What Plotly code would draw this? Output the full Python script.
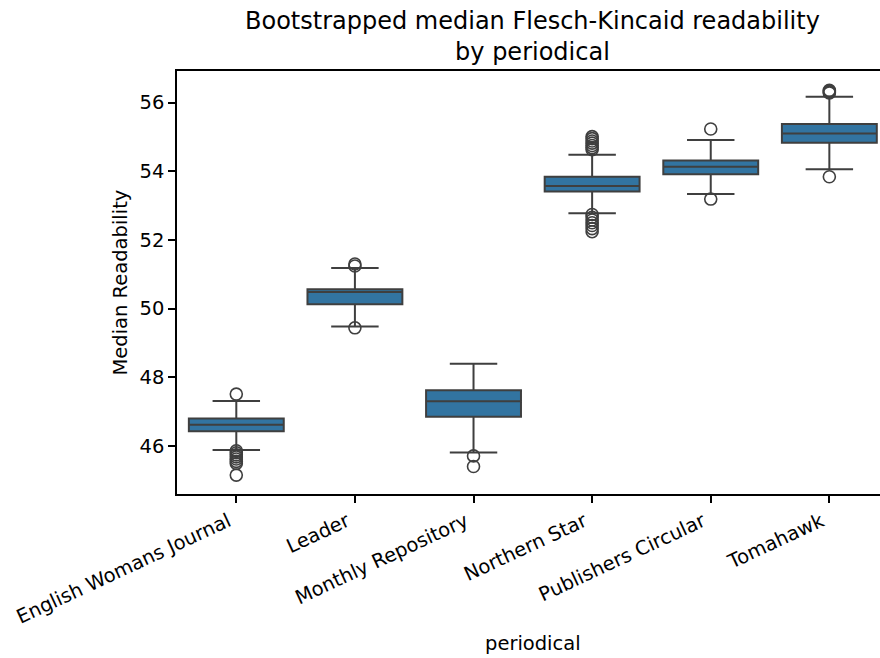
import plotly.graph_objects as go

periodicals = ["English Womans Journal", "Leader", "Monthly Repository",
               "Northern Star", "Publishers Circular", "Tomahawk"]
lower_fence = [45.88, 49.48, 45.81, 52.78, 53.34, 54.06]
q1 = [46.43, 50.13, 46.85, 53.41, 53.91, 54.83]
median = [46.62, 50.48, 47.30, 53.57, 54.13, 55.10]
q3 = [46.80, 50.56, 47.62, 53.84, 54.31, 55.38]
upper_fence = [47.31, 51.18, 48.39, 54.48, 54.91, 56.17]

outliers_ewj = [47.51, 45.86, 45.80, 45.74, 45.68, 45.62, 45.55, 45.49, 45.15]
outliers_leader = [51.30, 51.24, 49.44]
outliers_mr = [45.71, 45.40]
outliers_ns = [55.01, 54.95, 54.88, 54.82, 54.75, 54.69, 54.63,
               52.74, 52.66, 52.58, 52.50, 52.42, 52.33, 52.24]
outliers_pc = [55.23, 53.19]
outliers_tom = [56.36, 56.33, 56.30, 56.28, 53.84]
outliers = [outliers_ewj, outliers_leader, outliers_mr, outliers_ns, outliers_pc, outliers_tom]

yticks = [46, 48, 50, 52, 54, 56]

LINE = "#3f3f3f"
FILL = "#3274a1"
FONT = "DejaVu Sans"
FS = 19.5

fig = go.Figure()
fig.add_trace(go.Box(
    x=periodicals, q1=q1, median=median, q3=q3,
    lowerfence=lower_fence, upperfence=upper_fence,
    fillcolor=FILL, line=dict(color=LINE, width=2),
    width=0.8, whiskerwidth=0.5, boxpoints=False, showlegend=False,
))
ox, oy = [], []
for p, vals in zip(periodicals, outliers):
    for v in vals:
        ox.append(p)
        oy.append(v)
fig.add_trace(go.Scatter(
    x=ox, y=oy, mode="markers", showlegend=False,
    marker=dict(symbol="circle-open", size=12, color=LINE, line=dict(width=1.6, color=LINE)),
))

fig.update_layout(
    width=880, height=658,
    margin=dict(l=177, r=0, t=71, b=164, autoexpand=False),
    plot_bgcolor="white", paper_bgcolor="white",
    font=dict(family=FONT, size=FS, color="black"),
    showlegend=False,
)
fig.update_xaxes(
    type="category", range=[-0.5, 5.427], automargin=False,
    showline=True, linecolor="black", linewidth=1.5, mirror=True,
    ticks="outside", ticklen=7, tickwidth=1.5, tickcolor="black",
    tickangle=-25, showgrid=False, zeroline=False,
    ticklabelshift=-8,
    tickfont=dict(family=FONT, size=FS, color="black"),
)
fig.update_yaxes(
    range=[44.60, 56.92], tickvals=yticks, ticktext=[str(t) for t in yticks],
    automargin=False,
    showline=True, linecolor="black", linewidth=1.5, mirror=False,
    ticks="outside", ticklen=7, tickwidth=1.5, tickcolor="black",
    showgrid=False, zeroline=False,
    tickfont=dict(family=FONT, size=FS, color="black"),
)
fig.add_annotation(text="Median Readability", textangle=-90, xref="paper", yref="paper",
                   x=0, y=0.5, xshift=-57, xanchor="center", yanchor="middle",
                   showarrow=False, font=dict(family=FONT, size=FS, color="black"))
fig.add_annotation(text="periodical", xref="paper", yref="paper",
                   x=(532.5 - 177) / 703, y=0, yshift=-149, xanchor="center", yanchor="middle",
                   showarrow=False, font=dict(family=FONT, size=FS, color="black"))
fig.add_annotation(text="Bootstrapped median Flesch-Kincaid readability<br>by periodical",
                   xref="paper", yref="paper", x=(532.5 - 177) / 703, y=1, yshift=3,
                   xanchor="center", yanchor="bottom", align="center",
                   showarrow=False, font=dict(family=FONT, size=24, color="black"))

fig.write_html("out.html", post_script="document.body.style.margin='0px';",
               config={"displayModeBar": False})
